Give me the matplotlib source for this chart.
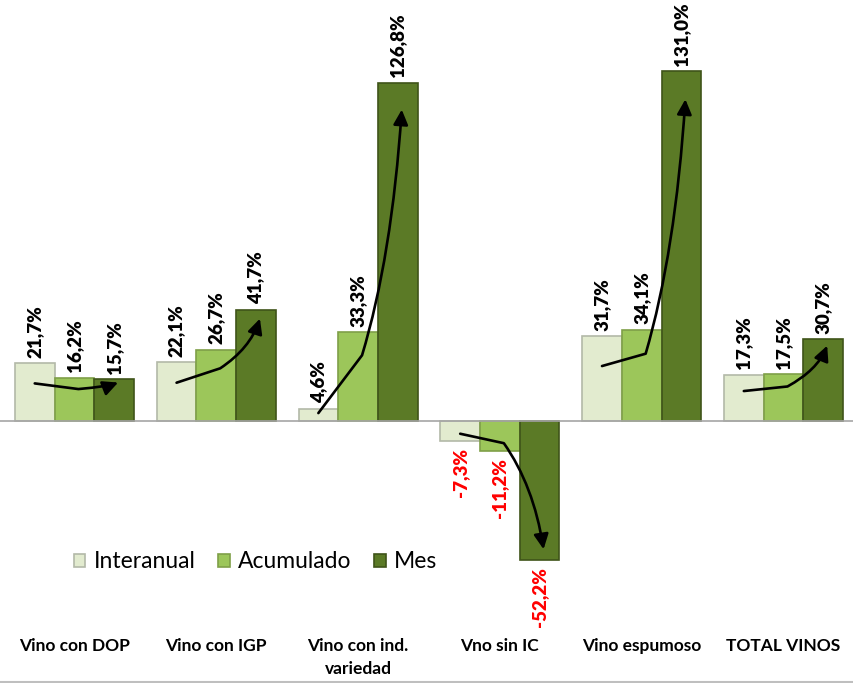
import matplotlib.pyplot as plt
import numpy as np
from matplotlib.path import Path
from matplotlib.patches import FancyArrowPatch
from matplotlib.lines import Line2D

plt.rcParams['font.family'] = ['Lato', 'DejaVu Sans']

categorias = ["Vino con DOP", "Vino con IGP", "Vino con ind.\nvariedad",
              "Vno sin IC", "Vino espumoso", "TOTAL VINOS"]
series = ["Interanual", "Acumulado", "Mes"]
interanual = [21.7, 22.1, 4.6, -7.3, 31.7, 17.3]
acumulado = [16.2, 26.7, 33.3, -11.2, 34.1, 17.5]
mes = [15.7, 41.7, 126.8, -52.2, 131.0, 30.7]

colores = ["#e2ebcf", "#9cc65a", "#5b7a26"]
bordes = ["#b3b9a8", "#7f9f48", "#3f5419"]

fig = plt.figure(figsize=(8.54, 6.83), dpi=100)
ax = fig.add_axes([0, 1 - 632 / 683, 1, 632 / 683])

x = np.arange(len(categorias))
w = 0.28
valores = [interanual, acumulado, mes]
for i, (nombre, vals) in enumerate(zip(series, valores)):
    pos = x + (i - 1) * w
    ax.bar(pos, vals, w, color=colores[i], edgecolor=bordes[i], linewidth=1.2,
           label=nombre, zorder=2)
    for xp, v in zip(pos, vals):
        txt = f"{v:.1f}%".replace(".", ",")
        if v >= 0:
            ax.annotate(txt, (xp, v), xytext=(0, 4), textcoords="offset points",
                        rotation=90, ha="center", va="bottom",
                        fontsize=13.5, fontweight="heavy", color="black")
        else:
            ax.annotate(txt, (xp, v), xytext=(0, -5), textcoords="offset points",
                        rotation=90, ha="center", va="top",
                        fontsize=13.5, fontweight="heavy", color="red")

# flechas de tendencia: tramo recto hasta la barra central y curva hasta la ultima
for j in range(len(categorias)):
    p0 = np.array([x[j] - w, 0.65 * interanual[j]])
    p1 = np.array([x[j] + 0.1 * w, 0.74 * acumulado[j]])
    p2 = np.array([x[j] + w * 1.1, 0.92 * mes[j]])
    d = p2 - p1
    c = p1 + np.array([0.75 * d[0], 0.4 * d[1]])
    path = Path([p0, p1, c, p2], [Path.MOVETO, Path.LINETO, Path.CURVE3, Path.CURVE3])
    arr = FancyArrowPatch(path=path, arrowstyle="-|>,head_length=0.45,head_width=0.22",
                          mutation_scale=20, color="black", lw=1.9, zorder=4,
                          joinstyle="round", capstyle="round")
    ax.add_patch(arr)

ax.axhline(0, color="#a6a6a6", lw=1.2, zorder=3)
ax.set_xlim(-0.525, 5.497)
ax.set_ylim(-79.0, 157.7)
ax.set_yticks([])
ax.set_xticks(x)
ax.set_xticklabels(categorias, fontsize=12.5, fontweight="bold", linespacing=1.55)
ax.tick_params(axis="x", length=0, pad=4)
for s in ax.spines.values():
    s.set_visible(False)

ax.legend(loc="center left", bbox_to_anchor=(74 / 854, 1 - 562 / 683),
          bbox_transform=fig.transFigure, ncol=3, frameon=False, fontsize=16.5,
          handlelength=0.5, handleheight=0.5, handletextpad=0.35,
          columnspacing=1.0, borderpad=0, borderaxespad=0)

fig.add_artist(Line2D([0, 1], [0.002, 0.002], color="#bfbfbf", lw=1.5))

fig.savefig("out.png", dpi=100)
